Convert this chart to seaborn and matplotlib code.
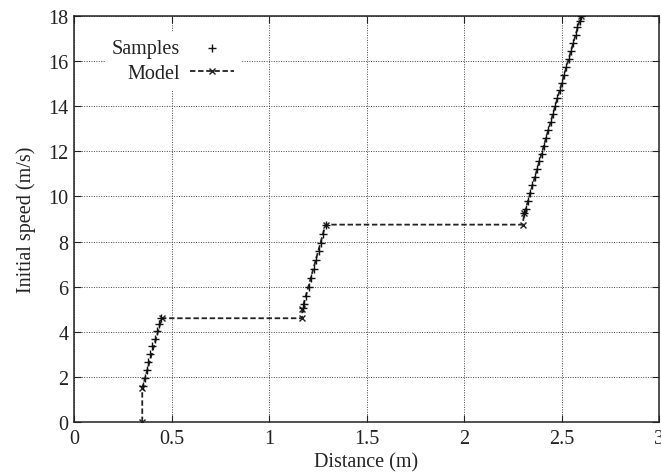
import matplotlib
matplotlib.use("Agg")
import matplotlib.pyplot as plt
import seaborn as sns
import pandas as pd

# Samples (distance m, initial speed m/s)
sample_dist = [0.352, 0.362, 0.372, 0.382, 0.392, 0.402, 0.413, 0.424, 0.436, 0.448,
               1.172, 1.178, 1.190, 1.203, 1.216, 1.229, 1.242, 1.255, 1.266, 1.277, 1.290,
               2.310, 2.317, 2.328, 2.340, 2.351, 2.363, 2.375, 2.386, 2.398, 2.409,
               2.421, 2.433, 2.444, 2.456, 2.467, 2.479, 2.491, 2.502, 2.514, 2.525,
               2.537, 2.549, 2.560, 2.572, 2.582, 2.593, 2.600]
sample_speed = [1.6, 1.95, 2.3, 2.65, 3.0, 3.35, 3.7, 4.05, 4.35, 4.6,
                5.05, 5.25, 5.6, 6.0, 6.4, 6.8, 7.2, 7.6, 7.95, 8.35, 8.75,
                9.25, 9.45, 9.8, 10.15, 10.5, 10.85, 11.2, 11.55, 11.9, 12.25,
                12.6, 12.95, 13.3, 13.65, 14.0, 14.35, 14.7, 15.05, 15.4, 15.75,
                16.1, 16.45, 16.8, 17.15, 17.5, 17.8, 18.0]

# Model
model_dist = [0.35, 0.35, 0.45, 1.17, 1.17, 1.29, 2.30, 2.31, 2.60]
model_speed = [0.0, 1.5, 4.6, 4.6, 5.0, 8.75, 8.75, 9.25, 18.0]

x_ticks = [0, 0.5, 1, 1.5, 2, 2.5, 3]
x_tick_labels = ["0", "0.5", "1", "1.5", "2", "2.5", "3"]
y_ticks = [0, 2, 4, 6, 8, 10, 12, 14, 16, 18]

sns.set_style("ticks")
plt.rcParams["font.family"] = ["Liberation Serif", "DejaVu Serif"]

fig = plt.figure(figsize=(6.61, 4.77), dpi=100)
ax = fig.add_axes([74 / 661, 54 / 477, 585 / 661, 406 / 477])

samples = pd.DataFrame({"d": sample_dist, "v": sample_speed})
model = pd.DataFrame({"d": model_dist, "v": model_speed})

sns.lineplot(data=model, x="d", y="v", ax=ax, color="#222222", linestyle=(0, (3, 1.5)),
             linewidth=1.3, marker="x", markersize=5, markeredgewidth=1.0,
             markeredgecolor="#222222", sort=False, estimator=None, label="Model", zorder=3)
sns.scatterplot(data=samples, x="d", y="v", ax=ax, marker="+", s=30, color="#111111",
                linewidth=1.0, label="Samples", zorder=4)

FS = 14.5
ax.set_xlim(0, 3)
ax.set_ylim(0, 18)
ax.set_xticks(x_ticks)
ax.set_xticklabels(x_tick_labels)
ax.set_yticks(y_ticks)
ax.grid(True, color="#444444", linestyle=(0, (1, 1.5)), linewidth=0.7)
ax.set_axisbelow(True)
ax.tick_params(direction="in", top=True, right=True, length=5, width=0.8,
               labelsize=FS, colors="#222222", pad=4)
ax.tick_params(axis="x", pad=5)
for sp in ax.spines.values():
    sp.set_color("#222222")
    sp.set_linewidth(1.1)
ax.set_xlabel("Distance (m)", fontsize=FS, color="#222222", labelpad=3)
ax.set_ylabel("Initial speed (m/s)", fontsize=FS, color="#222222", labelpad=9)

handles, labels = ax.get_legend_handles_labels()
order = [labels.index("Samples"), labels.index("Model")]
leg = ax.legend([handles[i] for i in order], [labels[i] for i in order],
                loc="upper left", bbox_to_anchor=(0.035, 0.985), markerfirst=False,
                fontsize=FS, frameon=True, fancybox=False, handlelength=2.2,
                handletextpad=0.5, borderpad=0.35, labelspacing=0.3)
leg.get_frame().set_facecolor("white")
leg.get_frame().set_linewidth(0)
leg.get_frame().set_alpha(1)
for t in leg.get_texts():
    t.set_ha("right")
    t.set_color("#222222")

fig.savefig("out.png", dpi=100)
